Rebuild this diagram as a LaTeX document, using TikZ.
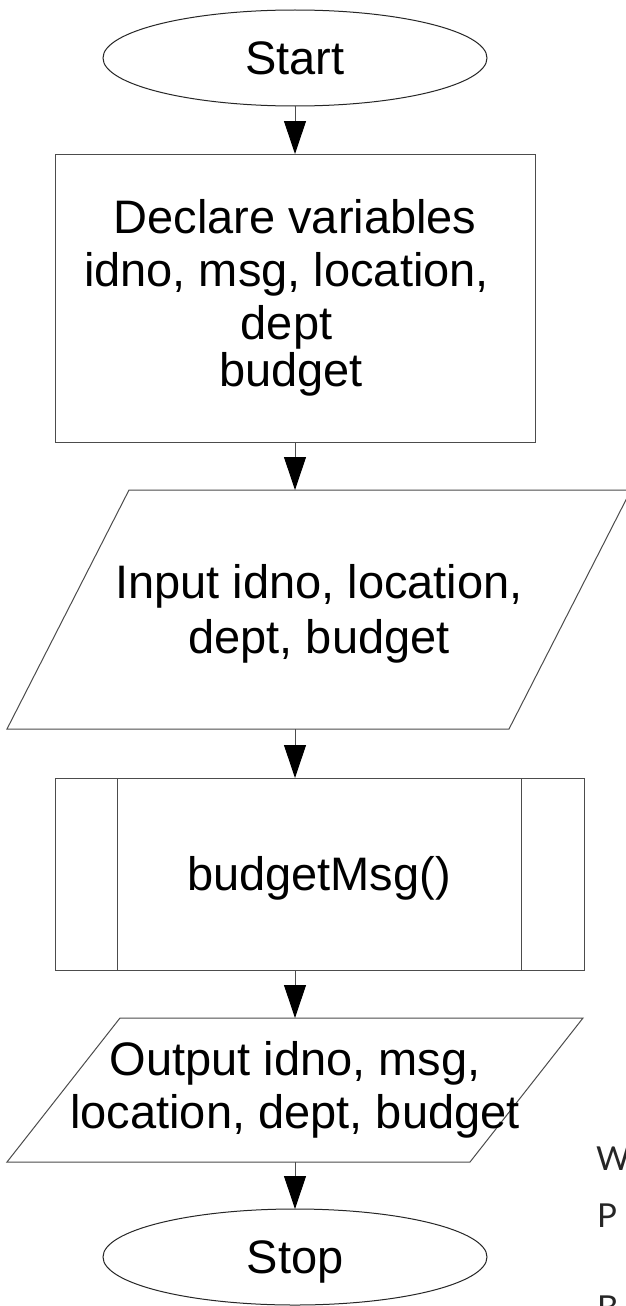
\documentclass[tikz,border=0pt]{standalone}
\usepackage{fontspec}
\setmainfont{Liberation Sans}
\newfontfamily\sidefont{Lato}
\usetikzlibrary{shapes.geometric,arrows.meta,calc}
\begin{document}
\begin{tikzpicture}[x=1pt,y=-1pt,
  shapeline/.style={draw=black!70, line width=1pt},
  flow/.style={draw=black!70, line width=1pt, -{Triangle[length=33pt,width=22pt,color=black]}},
  bigtext/.style={font=\fontsize{47}{53}\selectfont, align=center, inner sep=0pt},
  term/.style={shapeline, draw=black!85, ellipse, minimum width=384pt, minimum height=96pt,
    inner sep=0pt, outer sep=0pt, text depth=0pt, font=\fontsize{47}{53}\selectfont},
  procbox/.style={shapeline, rectangle, minimum width=480pt, minimum height=288pt,
    inner sep=0pt, outer sep=0pt, align=center, font=\fontsize{47}{53}\selectfont},
  subbox/.style={shapeline, rectangle, minimum width=529pt, minimum height=192pt,
    inner sep=0pt, outer sep=0pt},
  sidetext/.style={font=\sidefont\fontsize{33}{40}\selectfont, text=black!85, inner sep=0pt, anchor=base west}
]
\useasboundingbox (0,0) rectangle (626,1306);
\fill[white] (0,0) rectangle (626,1306);
\clip (0,0) rectangle (626,1306);

% Start
\node[term] (start) at (295,58) {Start};

% Declare
\node[procbox] (decl) at (295,298)
  {Declare variables\\idno, msg, location,\kern17pt\\dept\kern17pt\\[-6pt]budget\kern8pt};

% Input parallelogram
\coordinate (inpNW) at (129,490);
\coordinate (inpNE) at (631,490);
\coordinate (inpSE) at (509,729);
\coordinate (inpSW) at (7,729);
\draw[shapeline] (inpNW) -- (inpNE) -- (inpSE) -- (inpSW) -- cycle;
\node[bigtext, font=\fontsize{47}{55}\selectfont] (inp) at (319,613.5) {Input idno, location,\\dept, budget};
\coordinate (inpN) at (295,490);
\coordinate (inpS) at (295,729);

% Subroutine box
\node[subbox] (sub) at (319.5,874) {};
\draw[shapeline] ([xshift=62pt]sub.north west) -- ([xshift=62pt]sub.south west);
\draw[shapeline] ([xshift=-63pt]sub.north east) -- ([xshift=-63pt]sub.south east);
\node[bigtext] (subtxt) at (319,878) {budgetMsg()};

% Output parallelogram
\coordinate (outNW) at (120,1018);
\coordinate (outNE) at (583,1018);
\coordinate (outSE) at (470,1162);
\coordinate (outSW) at (7,1162);
\draw[shapeline] (outNW) -- (outNE) -- (outSE) -- (outSW) -- cycle;
\node[bigtext] (out) at (295,1089.5) {Output idno, msg,\\location, dept, budget};
\coordinate (outN) at (295,1018);
\coordinate (outS) at (295,1162);

% Stop
\node[term] (stop) at (295,1257) {Stop};

% Connectors
\draw[flow] (start.south) -- (decl.north);
\draw[flow] (decl.south) -- (inpN);
\draw[flow] (inpS) -- (inpS |- sub.north);
\draw[flow] (inpS |- sub.south) -- (outN);
\draw[flow] (outS) -- (stop.north);

% Side letters
\node[sidetext] (sw) at (596,1170) {W};
\node[sidetext] (sp) at (597,1227) {P};
\node[sidetext] (sb) at (597,1319) {B};
\end{tikzpicture}
\end{document}
